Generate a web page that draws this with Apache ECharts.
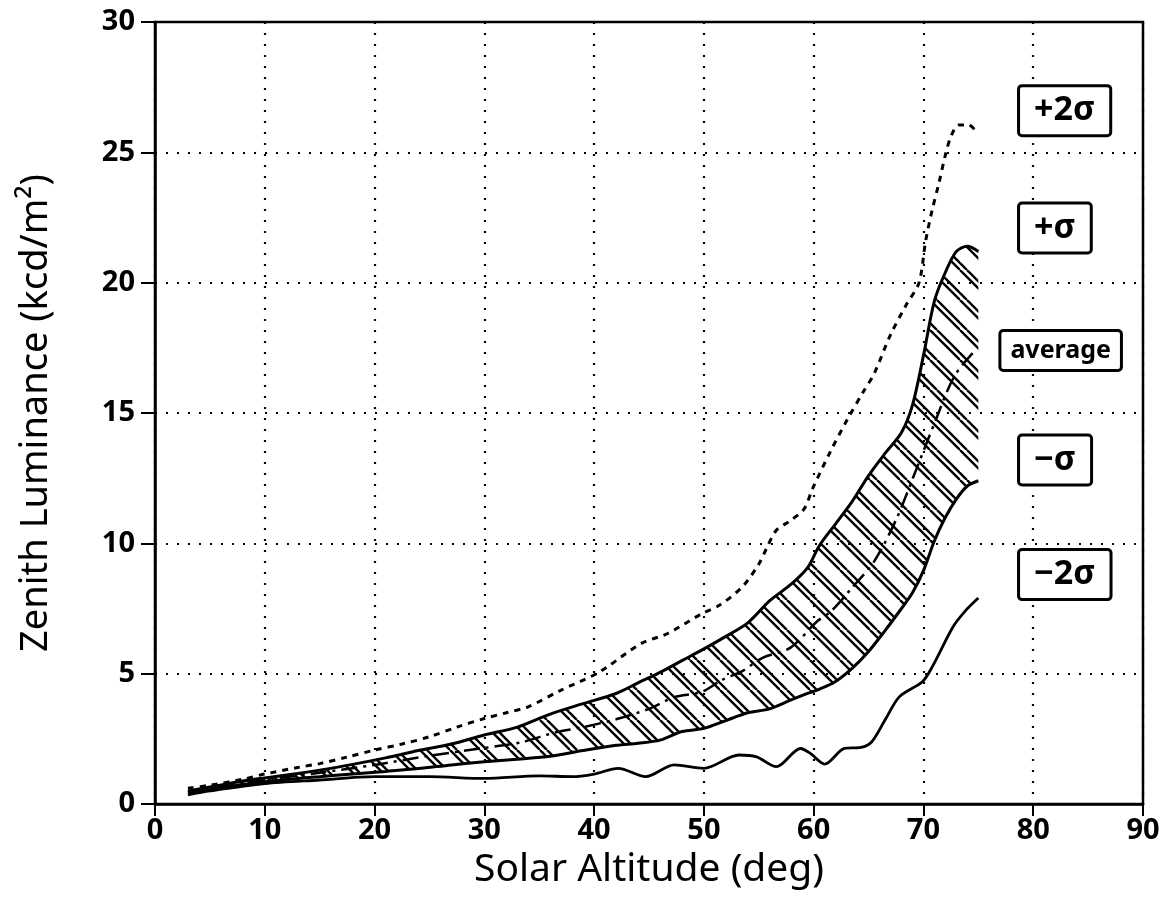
<!DOCTYPE html>
<html>
<head>
<meta charset="utf-8">
<script src="https://cdn.jsdelivr.net/npm/echarts@6/dist/echarts.min.js"></script>
<style>html,body{margin:0;padding:0;background:#fff}#c{width:1173px;height:910px}</style>
</head>
<body>
<div id="c"></div>
<script>
// ---- data ----
const xTicks = [0,10,20,30,40,50,60,70,80,90];
const yTicks = [0,5,10,15,20,25,30];

// +2 sigma (dotted)
const plus2X = [3,5,8,10,13,15,17.5,20,22.5,25,27.5,30,32,34,37,40,41.2,44.3,46.7,49.8,51.4,53.5,55,55.7,56.6,57.8,59.1,59.9,61.5,63,64.5,65.5,67,68.5,69.6,70.2,70.8,71.4,72,72.5,73.2,74.1,75];
const plus2Y = [0.6,0.72,0.95,1.15,1.4,1.55,1.8,2.07,2.3,2.58,2.95,3.28,3.5,3.73,4.37,4.95,5.26,6.16,6.54,7.3,7.62,8.33,9.2,9.8,10.5,10.85,11.3,12.1,13.5,14.7,15.8,16.5,18.0,19.2,20.0,21.6,22.8,23.8,24.9,25.6,26.05,26.05,25.7];

// +sigma / -sigma band (hatched)
const bandX     = [3,5,8,10,13,15,18,21,24,27,30,33,36,39,42,44,46,48,50,52,54,56,58,59.5,60.5,62,63.5,65,66.5,68,69,70,71,72,73,74,75];
const plus1Y    = [0.5,0.65,0.88,1.0,1.17,1.3,1.52,1.77,2.05,2.3,2.65,2.95,3.45,3.85,4.24,4.65,5.05,5.5,5.95,6.43,6.95,7.8,8.45,9.1,9.9,10.75,11.6,12.6,13.45,14.25,15.3,17.2,19.3,20.4,21.2,21.4,21.2];
const minus1Y   = [0.42,0.55,0.75,0.85,0.98,1.05,1.15,1.25,1.36,1.5,1.62,1.72,1.83,2.05,2.25,2.33,2.45,2.78,2.9,3.2,3.5,3.65,4.0,4.25,4.4,4.7,5.2,5.85,6.65,7.5,8.1,8.95,10.1,11.0,11.7,12.2,12.4];

// average (dash-dot)
const avgX = [3,10,15,20,25,30,33.4,36.5,39,42,45,47.3,49.8,51.6,53.5,55.3,57.9,60.3,61.6,63.5,65.5,67.5,69.5,71,72.8,74.7];
const avgY = [0.46,0.92,1.2,1.5,1.85,2.15,2.37,2.75,2.95,3.25,3.65,4.1,4.3,4.75,5.1,5.6,6.0,7.0,7.4,8.3,9.3,10.9,13.0,14.6,16.4,17.4];

// -2 sigma (solid)
const minus2X = [3,5,10,15,20,25,30,35,38,40,42.2,44.7,47.3,50,53.2,54.8,56.6,58.8,59.7,61,62.8,64.3,65.3,66.5,67.8,69.9,70.8,72.7,73.8,75];
const minus2Y = [0.35,0.5,0.78,0.92,1.05,1.05,0.98,1.08,1.05,1.15,1.37,1.05,1.5,1.37,1.88,1.81,1.43,2.13,1.94,1.53,2.13,2.17,2.39,3.22,4.11,4.69,5.26,6.8,7.4,7.9];

// boxed curve labels
const labelNames = ['+2σ','+σ','average','−σ','−2σ'];
const labelX = [78.8,78.8,77.1,78.8,78.8];
const labelY = [26.6,22.1,17.4,13.2,8.8];

// ---- helpers ----
const zip = (xs, ys) => xs.map((x, i) => [x, ys[i]]);

function hatchCanvas() {
  const s = 30;
  const c = document.createElement('canvas');
  c.width = s; c.height = s;
  const g = c.getContext('2d');
  g.strokeStyle = '#000';
  g.lineWidth = 2.4;
  for (const off of [0, 7]) {
    for (const k of [-1, 0, 1]) {
      g.beginPath();
      g.moveTo(k * s + off, 0);
      g.lineTo(k * s + off + s, s);
      g.stroke();
    }
  }
  return c;
}
const hatch = hatchCanvas();

const chart = echarts.init(document.getElementById('c'), null, {renderer: 'canvas'});
const F = 'Noto Sans, DejaVu Sans, sans-serif';

const option = {
  backgroundColor: '#fff',
  animation: false,
  grid: {left: 155, right: 30, top: 22, bottom: 106, show: true, borderColor: '#000', borderWidth: 2.5, backgroundColor: 'transparent'},
  xAxis: {
    type: 'value', min: xTicks[0], max: xTicks[xTicks.length - 1], interval: 10,
    name: 'Solar Altitude (deg)', nameLocation: 'middle', nameGap: 42,
    nameTextStyle: {fontFamily: F, fontSize: 39, color: '#000'},
    axisLine: {lineStyle: {color: '#000', width: 2.5}},
    axisTick: {show: true, inside: false, length: 12, lineStyle: {color: '#000', width: 2}},
    axisLabel: {margin: 12, fontFamily: F, fontWeight: 'bold', fontSize: 29, color: '#000'},
    splitLine: {show: true, lineStyle: {color: '#000', width: 2.2, type: [2, 9]}}
  },
  yAxis: {
    type: 'value', min: yTicks[0], max: yTicks[yTicks.length - 1], interval: 5,
    name: 'Zenith Luminance (kcd/m²)', nameLocation: 'middle', nameGap: 100,
    nameTextStyle: {fontFamily: F, fontSize: 38, color: '#000'},
    axisLine: {lineStyle: {color: '#000', width: 2.5}},
    axisTick: {show: true, inside: false, length: 14, lineStyle: {color: '#000', width: 2}},
    axisLabel: {margin: 20, fontFamily: F, fontWeight: 'bold', fontSize: 29, color: '#000'},
    splitLine: {show: true, lineStyle: {color: '#000', width: 2.2, type: [2, 9]}}
  },
  series: [
    {
      name: 'band', type: 'custom', silent: true, clip: true,
      data: [0],
      renderItem: (params, api) => {
        const pts = [];
        for (let i = 0; i < bandX.length; i++) pts.push(api.coord([bandX[i], plus1Y[i]]));
        for (let i = bandX.length - 1; i >= 0; i--) pts.push(api.coord([bandX[i], minus1Y[i]]));
        return {type: 'polygon', shape: {points: pts}, style: {fill: {image: hatch, repeat: 'repeat'}, stroke: null}};
      }
    },
    {
      name: '-sigma', type: 'line', smooth: 0.3, symbol: 'none',
      data: zip(bandX, minus1Y),
      lineStyle: {color: '#000', width: 3}
    },
    {
      name: '+sigma', type: 'line', smooth: 0.3, symbol: 'none',
      data: zip(bandX, plus1Y),
      lineStyle: {color: '#000', width: 3}
    },
    {
      name: 'average', type: 'line', smooth: 0.3, symbol: 'none',
      data: zip(avgX, avgY),
      lineStyle: {color: '#000', width: 2.5, type: [16, 6, 3, 6]}
    },
    {
      name: '+2sigma', type: 'line', smooth: 0.3, symbol: 'none',
      data: zip(plus2X, plus2Y),
      lineStyle: {color: '#000', width: 3, type: [6, 6]}
    },
    {
      name: '-2sigma', type: 'line', smooth: 0.3, symbol: 'none',
      data: zip(minus2X, minus2Y),
      lineStyle: {color: '#000', width: 2.8}
    },
    {
      name: 'labels', type: 'scatter', symbolSize: 0, silent: true, z: 10,
      itemStyle: {color: '#000', opacity: 1},
      data: labelNames.map((n, i) => ({name: n, value: [labelX[i], labelY[i]],
        label: n === 'average'
          ? {fontSize: 25, padding: [5, 9, 7, 9]}
          : {fontSize: 34, padding: [6, 14, 7, 14]}})),
      label: {
        show: true, position: 'right', distance: 0, formatter: p => p.name,
        fontFamily: F, fontWeight: 'bold', color: '#000',
        backgroundColor: '#fff', borderColor: '#000', borderWidth: 3, borderRadius: 2,
        textBorderWidth: 0, textShadowBlur: 0, shadowBlur: 0, shadowColor: 'transparent'
      },
      emphasis: {disabled: true}
    }
  ]
};
chart.setOption(option);
</script>
</body>
</html>
